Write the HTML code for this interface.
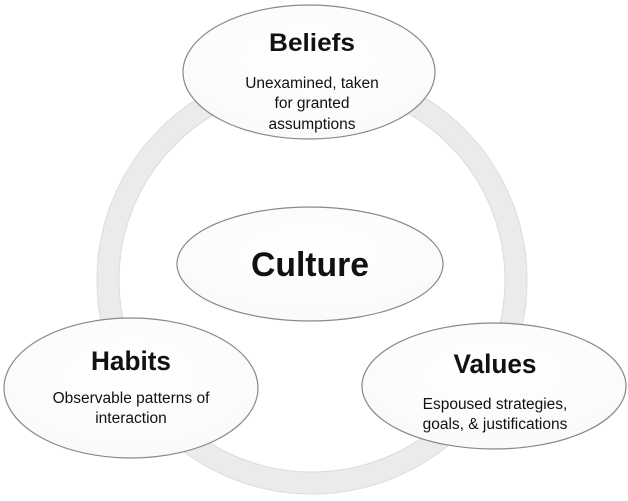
<!DOCTYPE html>
<html><head><meta charset="utf-8"><style>
html,body{margin:0;padding:0;background:#fff;}
svg{display:block;}
text{font-family:"Liberation Sans",sans-serif;fill:#111;text-anchor:middle;}
.t{font-weight:bold;}
</style></head><body>
<svg width="628" height="501" viewBox="0 0 628 501">
<defs>
<radialGradient id="g" cx="50%" cy="40%" r="60%"><stop offset="0" stop-color="#fff"/><stop offset="1" stop-color="#fafafa"/></radialGradient>
</defs>
<ellipse cx="312" cy="280" rx="204" ry="203" fill="none" stroke="#ebebeb" stroke-width="22"/>
<ellipse cx="312" cy="280" rx="215" ry="214" fill="none" stroke="#dcdcdc" stroke-width="1"/>
<ellipse cx="312" cy="280" rx="193" ry="192" fill="none" stroke="#dcdcdc" stroke-width="1"/>
<g stroke="#888" stroke-width="1.2" fill="url(#g)">
<ellipse cx="309" cy="72" rx="126" ry="67"/>
<ellipse cx="310" cy="264" rx="133" ry="57"/>
<ellipse cx="131" cy="388" rx="127" ry="70"/>
<ellipse cx="494" cy="386" rx="132" ry="63"/>
</g>
<text class="t" x="312" y="51" font-size="25" textLength="86" lengthAdjust="spacingAndGlyphs">Beliefs</text>
<text x="312" y="88" font-size="15.5">Unexamined, taken</text>
<text x="312" y="108" font-size="15.5">for granted</text>
<text x="312" y="129" font-size="15.5">assumptions</text>
<text class="t" x="310" y="276" font-size="34" textLength="118" lengthAdjust="spacingAndGlyphs">Culture</text>
<text class="t" x="131" y="370" font-size="27" textLength="80" lengthAdjust="spacingAndGlyphs">Habits</text>
<text x="131" y="403" font-size="15.5">Observable patterns of</text>
<text x="131" y="423" font-size="15.5">interaction</text>
<text class="t" x="495" y="373" font-size="27" textLength="83" lengthAdjust="spacingAndGlyphs">Values</text>
<text x="495" y="409" font-size="15.5">Espoused strategies,</text>
<text x="495" y="429" font-size="15.5">goals, &amp; justifications</text>
</svg>
</body></html>
